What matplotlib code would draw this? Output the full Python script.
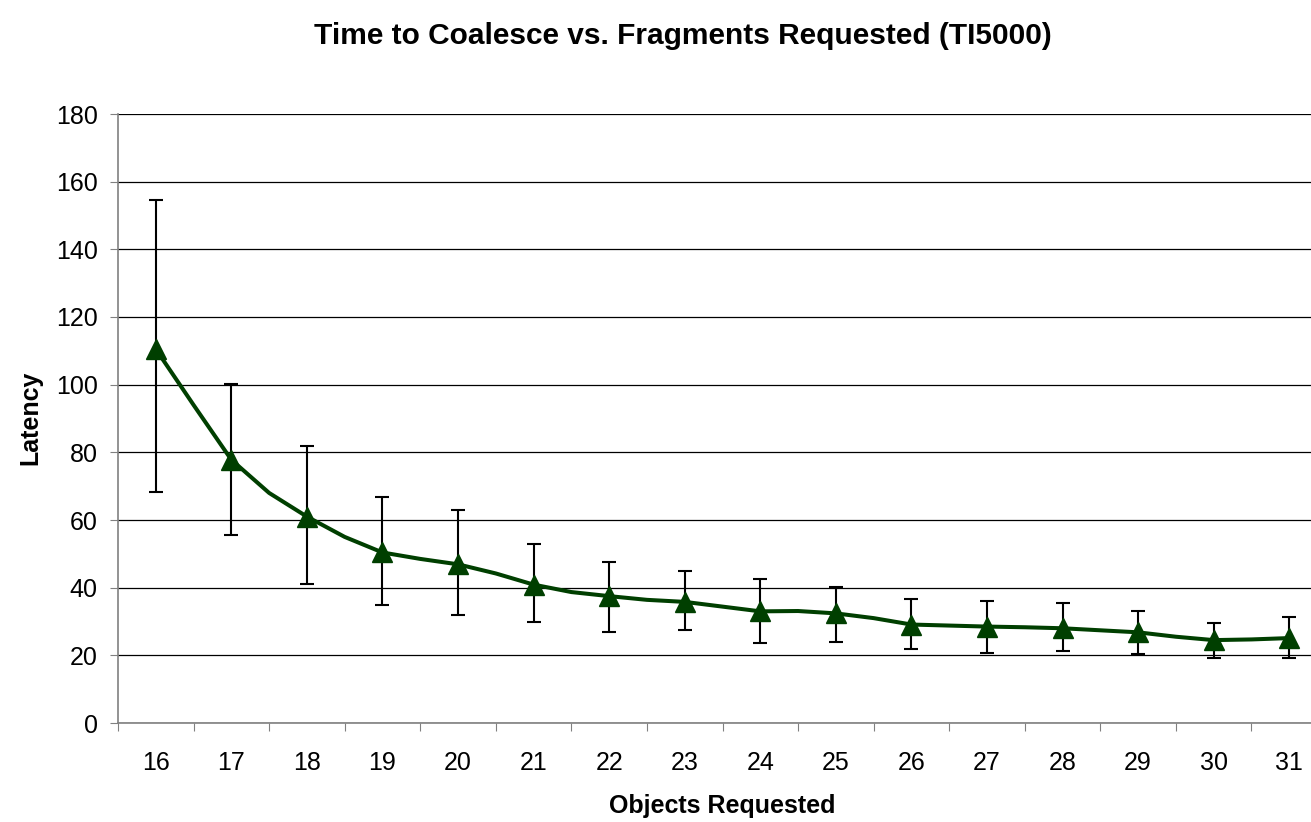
import numpy as np
import matplotlib
matplotlib.use("Agg")
import matplotlib.pyplot as plt

# data
objects = [16, 17, 18, 19, 20, 21, 22, 23, 24, 25, 26, 27, 28, 29, 30, 31]
latency = [110.5, 77.8, 61.0, 50.4, 46.9, 40.9, 37.5, 35.8, 33.0, 32.4, 29.1, 28.5, 28.0, 26.8, 24.5, 25.1]
err_top = [154.6, 100.1, 81.9, 66.8, 63.0, 52.8, 47.6, 45.0, 42.6, 40.3, 36.6, 36.0, 35.4, 33.1, 29.6, 31.3]
err_bot = [68.4, 55.7, 41.0, 34.8, 32.0, 29.8, 27.0, 27.6, 23.6, 24.0, 21.8, 20.7, 21.3, 20.3, 19.1, 19.1]
# line also passes through in-between points (no markers)
mid_latency = [94.0, 68.0, 55.0, 48.5, 44.2, 38.7, 36.4, 34.4, 33.1, 31.0, 28.8, 28.3, 27.4, 25.5, 24.7]

plt.rcParams['font.family'] = ['Liberation Sans', 'DejaVu Sans']

green = '#003f00'

fig = plt.figure(figsize=(13.11, 8.22), dpi=100)
ax = fig.add_axes([118 / 1311, 1 - 723 / 822, (1327 - 118) / 1311, (723 - 114) / 822])

x = np.arange(len(objects))
lat = np.array(latency)
xm = x[:-1] + 0.5
xl = np.empty(len(x) + len(xm))
yl = np.empty_like(xl)
xl[0::2] = x
xl[1::2] = xm
yl[0::2] = lat
yl[1::2] = mid_latency

ax.plot(xl, yl, color=green, lw=2.9, zorder=3)
yerr = [lat - np.array(err_bot), np.array(err_top) - lat]
ax.errorbar(x, lat, yerr=yerr, fmt='none', ecolor='black', elinewidth=1.5,
            capsize=5.3, capthick=1.5, zorder=2)
ax.plot(x, lat, ls='none', marker='^', markersize=14, color=green, zorder=4)

ax.set_xlim(-0.5, len(objects) - 0.5)
ax.set_ylim(0, 180)
ax.set_yticks(range(0, 181, 20))
ax.yaxis.grid(True, color='black', lw=0.9)
ax.set_axisbelow(True)

ax.set_xticks(np.arange(-0.5, len(objects), 1.0))
ax.set_xticklabels([])
ax.set_xticks(x, minor=True)
ax.set_xticklabels([str(o) for o in objects], minor=True, fontsize=18)
ax.tick_params(axis='x', which='minor', length=0, pad=20)
ax.tick_params(axis='x', which='major', length=6, color='#808080', direction='out')
ax.tick_params(axis='y', length=6, color='#808080', direction='out', labelsize=18, pad=8.5)

for s in ['top', 'right']:
    ax.spines[s].set_visible(False)
for s in ['left', 'bottom']:
    ax.spines[s].set_color('#808080')
    ax.spines[s].set_linewidth(1.2)

fig.text(683 / 1311, 1 - 36 / 822, 'Time to Coalesce vs. Fragments Requested (TI5000)',
         ha='center', va='center', fontsize=21.5, fontweight='bold')
fig.text(722 / 1311, 1 - 806 / 822, 'Objects Requested', ha='center', va='center',
         fontsize=18, fontweight='bold')
fig.text(30 / 1311, 1 - 418 / 822, 'Latency', ha='center', va='center',
         fontsize=18, fontweight='bold', rotation=90)

fig.savefig('out.png', dpi=100)
